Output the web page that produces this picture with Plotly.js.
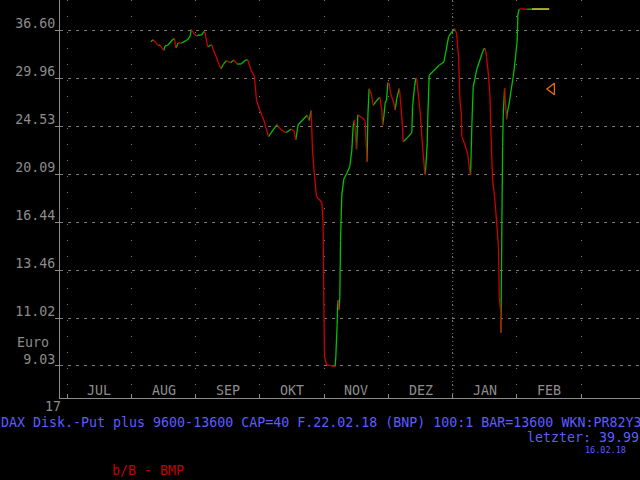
<!DOCTYPE html>
<html>
<head>
<meta charset="utf-8">
<script src="https://cdn.plot.ly/plotly-3.0.1.min.js"></script>
<style>html,body{margin:0;padding:0;background:#000;}#chart{width:640px;height:480px;}</style>
</head>
<body>
<div id="chart"></div>
<script>
// Month labels (each month has equal width on this chart; x is measured in months since 1 Jul 2017)
const months = ['JUL','AUG','SEP','OKT','NOV','DEZ','JAN','FEB'];
const monthBounds = [0,1,2,3,4,5,6,7,8];

// Y tick values / labels (log scale)
const yTickVals = [9.03, 11.02, 13.46, 16.44, 20.09, 24.53, 29.96, 36.60];
const yTickText = ['9.03','11.02','13.46','16.44','20.09','24.53','29.96','36.60'];

// Price series (time in months since 1 Jul 2017, price in Euro)
const tMonths = [1.305,1.336,1.420,1.440,1.471,1.503,1.523,1.565,1.647,1.669,
1.694,1.725,1.772,1.856,1.897,1.918,1.928,1.959,2.012,2.032,
2.094,2.130,2.146,2.172,2.188,2.227,2.250,2.281,2.333,2.354,
2.395,2.426,2.479,2.541,2.593,2.644,2.706,2.779,2.811,2.862,
2.915,2.946,2.997,3.060,3.133,3.205,3.267,3.309,3.360,3.402,
3.485,3.527,3.558,3.594,3.734,3.765,3.796,3.818,3.849,3.880,
3.963,3.983,3.994,4.005,4.036,4.170,4.181,4.201,4.212,4.232,
4.243,4.254,4.274,4.305,4.348,4.399,4.430,4.450,4.472,4.503,
4.523,4.617,4.637,4.659,4.668,4.679,4.699,4.730,4.762,4.824,
4.866,4.897,4.908,4.928,4.948,4.970,4.991,5.011,5.033,5.084,
5.104,5.126,5.166,5.177,5.198,5.219,5.229,5.282,5.364,5.375,
5.406,5.427,5.438,5.469,5.500,5.531,5.562,5.571,5.582,5.603,
5.613,5.634,5.696,5.789,5.862,5.894,5.936,5.987,6.029,6.060,
6.092,6.112,6.132,6.143,6.185,6.236,6.256,6.278,6.299,6.319,
6.372,6.423,6.485,6.506,6.527,6.559,6.579,6.599,6.621,6.652,
6.673,6.693,6.714,6.724,6.746,6.750,6.766,6.777,6.786,6.808,
6.817,6.839,6.848,6.879,6.910,6.942,6.973,7.004,7.015,7.036,
7.159,7.233,7.502];
const prices = [34.90,35.19,34.33,34.43,34.04,33.68,34.28,34.38,35.25,35.34,
34.00,34.71,34.67,35.08,35.44,35.89,36.72,36.27,35.74,35.85,
35.89,36.42,36.19,34.86,34.14,34.38,34.43,33.58,32.48,31.97,
31.18,31.71,32.24,31.97,32.33,31.80,31.80,32.33,32.33,31.01,
30.16,27.37,26.25,25.18,23.49,24.16,24.69,24.29,24.05,23.88,
24.23,24.08,23.17,24.69,25.68,25.11,26.18,22.22,19.89,18.30,
17.85,16.37,11.93,9.40,9.07,9.01,9.40,10.70,11.89,11.41,
12.06,15.23,18.41,19.68,20.12,20.74,22.23,24.49,25.18,22.29,
25.74,25.26,25.05,22.22,21.15,25.53,28.69,28.15,26.77,27.37,
27.68,26.25,24.63,25.53,27.00,27.37,29.42,29.34,28.15,27.00,
26.25,27.37,28.69,28.15,26.25,24.49,22.98,23.30,23.88,26.62,
28.93,30.00,29.91,27.75,25.53,22.53,20.45,20.06,20.74,22.85,
25.53,30.34,30.85,31.63,32.06,33.53,35.64,36.34,36.84,36.15,
32.78,27.37,26.04,23.49,22.79,21.80,20.74,20.01,24.84,28.86,
31.01,32.33,33.90,33.90,32.78,30.16,27.91,23.17,19.62,18.30,
17.07,15.92,14.73,12.06,11.37,10.37,16.60,22.53,25.68,28.77,
27.37,25.26,25.89,27.00,28.54,30.16,32.33,35.15,39.17,40.00,
39.95,39.99,39.99];

// Orange marker
const markerT = [7.544];
const markerVal = [28.65];

const gray = '#8c8c8c';
const gridGray = '#7a7a7a';
const mono = 'DejaVu Sans Mono, Liberation Mono, monospace';

const gX=[],gY=[],rX=[],rY=[],lX=[],lY=[];
const n = prices.length;
for (let i=0;i<n-1;i++){
  const xs=[tMonths[i],tMonths[i+1],null], ys=[prices[i],prices[i+1],null];
  if (i===n-2){lX.push(...xs);lY.push(...ys);}
  else if (prices[i+1]>=prices[i]){gX.push(...xs);gY.push(...ys);}
  else {rX.push(...xs);rY.push(...ys);}
}

const traces = [
  {x:gX,y:gY,mode:'lines',line:{color:'#00c000',width:1.3},hoverinfo:'skip'},
  {x:rX,y:rY,mode:'lines',line:{color:'#cc0000',width:1.3},hoverinfo:'skip'},
  {x:lX,y:lY,mode:'lines',line:{color:'#ffff40',width:1.3},hoverinfo:'skip'},
  {x:markerT,y:markerVal,mode:'markers',marker:{symbol:'triangle-left-open',size:10,color:'#e07010',line:{width:1.3,color:'#e07010'}},hoverinfo:'skip'}
];

const annotations = months.map((m,i)=>({
  x:i+0.5, xref:'x', y:0.019, yref:'paper', text:m, showarrow:false,
  xanchor:'center', yanchor:'middle', font:{family:mono,size:13.3,color:gray}
}));
annotations.push(
  {x:0.0047,xref:'paper',y:-0.021,yref:'paper',text:'17',showarrow:false,xanchor:'right',yanchor:'middle',font:{family:mono,size:13.3,color:gray}},
  {x:-0.077,xref:'paper',y:0.139,yref:'paper',text:'Euro',showarrow:false,xanchor:'left',yanchor:'middle',font:{family:mono,size:13.3,color:gray}},
  {x:-0.106,xref:'paper',y:-0.0608,yref:'paper',text:'DAX Disk.-Put plus 9600-13600 CAP=40 F.22.02.18 (BNP) 100:1 BAR=13600 WKN:PR82Y3',showarrow:false,xanchor:'left',yanchor:'middle',font:{family:mono,size:13.3,color:'#5c5cff'}},
  {x:1.0,xref:'paper',y:-0.1005,yref:'paper',text:'letzter: 39.99',showarrow:false,xanchor:'right',yanchor:'middle',borderpad:0,font:{family:mono,size:13.3,color:'#5c5cff'}},
  {x:0.978,xref:'paper',y:-0.1315,yref:'paper',text:'16.02.18',showarrow:false,xanchor:'right',yanchor:'middle',borderpad:0,font:{family:mono,size:8.5,color:'#5c5cff'}},
  {x:0.087,xref:'paper',y:-0.1813,yref:'paper',text:'b/B - BMP',showarrow:false,xanchor:'left',yanchor:'middle',font:{family:mono,size:13.3,color:'#c00000'}}
);

const layout = {
  width:640, height:480,
  paper_bgcolor:'#000', plot_bgcolor:'#000',
  margin:{l:60,r:0,t:0,b:82},
  showlegend:false,
  xaxis:{
    range:[-0.112,8.915], tickvals:monthBounds, showticklabels:false,
    ticks:'inside', ticklen:4, tickcolor:gray, tickwidth:1,
    showline:true, linecolor:gray, linewidth:1,
    showgrid:true, gridcolor:gridGray, griddash:'1px,15px', gridwidth:1,
    zeroline:false, fixedrange:true
  },
  yaxis:{
    type:'log', range:[0.89755,1.61831],
    tickvals:yTickVals, ticktext:yTickText,
    ticks:'outside', ticklen:4, tickcolor:gray,
    tickfont:{family:mono,size:13.3,color:gray},
    ticklabelshift:-7, ticklabelstandoff:-3,
    showline:true, linecolor:gray, linewidth:1,
    showgrid:true, gridcolor:gridGray, griddash:'3px,5px', gridwidth:1,
    zeroline:false, fixedrange:true
  },
  shapes:[
    {type:'line',xref:'x',x0:6,x1:6,yref:'paper',y0:0,y1:1,line:{color:gridGray,width:1,dash:'1px,3px'}}
  ],
  annotations:annotations
};

Plotly.newPlot('chart', traces, layout, {displayModeBar:false, staticPlot:true});
</script>
</body>
</html>
